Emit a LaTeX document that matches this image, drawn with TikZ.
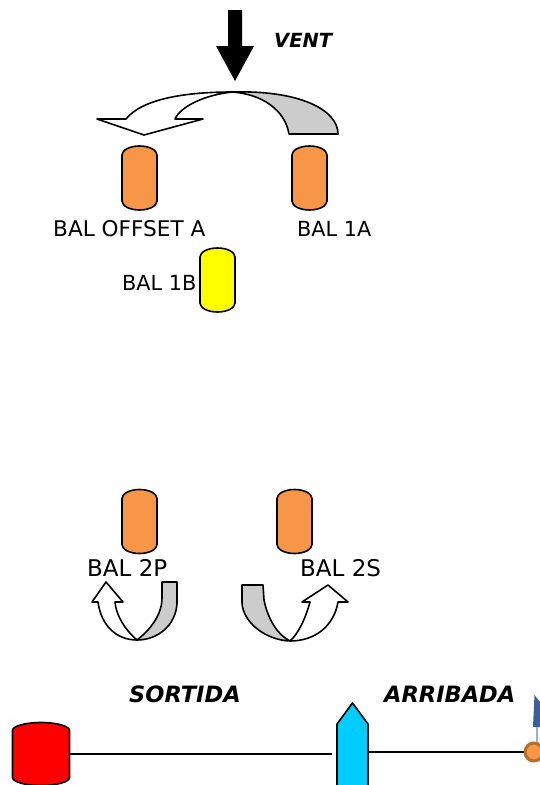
\documentclass[tikz,border=0pt]{standalone}
\usepackage{fontspec}
\setmainfont{DejaVu Sans}
\usetikzlibrary{calc}
\definecolor{balorange}{HTML}{F79646}
\definecolor{balgray}{HTML}{CCCCCC}
\definecolor{balblue}{HTML}{00CCFF}
\definecolor{balyellow}{HTML}{FFFF00}
\definecolor{balred}{HTML}{FF0000}
\definecolor{flagblue}{HTML}{3A6096}
\definecolor{stemblue}{HTML}{95B3D7}
\definecolor{ringbrown}{HTML}{B86E2A}
\tikzset{
  capbox/.style={inner sep=0pt, outer sep=0pt, minimum width=35pt, minimum height=64pt, draw=none},
  outline/.style={draw=black, line width=1.6pt, line join=round},
  lbl/.style={font=\fontsize{20.8}{25}\selectfont, anchor=base west, inner sep=0pt},
  widelbl/.style={font=\fontsize{21.6}{26}\selectfont, anchor=base west, inner sep=0pt},
  biglbl/.style={font=\fontsize{23}{27}\selectfont, anchor=base west, inner sep=0pt},
  ititle/.style={font=\fontsize{19.5}{23}\selectfont\bfseries\itshape, anchor=base west, inner sep=0pt},
  ibig/.style={font=\fontsize{22.5}{26}\selectfont\bfseries\itshape, anchor=base west, inner sep=0pt},
  wire/.style={draw=black, line width=1.5pt}
}
\newcommand\capsule[4]{%
  \draw[outline, fill=#2] ([yshift=-#4pt]#1.north west)
    arc[start angle=180, end angle=0, x radius=#3pt, y radius=#4pt]
    -- ([yshift=#4pt]#1.south east)
    arc[start angle=0, end angle=-180, x radius=#3pt, y radius=#4pt] -- cycle;}
\begin{document}
\begin{tikzpicture}[x=1pt,y=-1pt]
\useasboundingbox (0,0) rectangle (540,785);
\clip (0,0) rectangle (540,785);

% wind arrow
\fill[black] (228,10) -- (242,10) -- (242,46) -- (254,46) -- (235,81) -- (216,46) -- (228,46) -- cycle;
\node[ititle] (vent) at (274,47) {VENT};

% top curved arrow
\draw[outline, fill=balgray] (232,92) .. controls (300,90) and (338,110) .. (338,134)
  -- (289,134) .. controls (285,110) and (262,94) .. (232,92) -- cycle;
\draw[outline, fill=white] (126,119) .. controls (142,99) and (185,92) .. (232,92)
  .. controls (205,95) and (181,106) .. (175,119) -- (203,119) -- (144,135) -- (97,119) -- cycle;

% balloons
\node[capbox] (offA) at (139.5,178) {};
\capsule{offA}{balorange}{17.5}{9}
\node[capbox] (b1A) at (309.5,178) {};
\capsule{b1A}{balorange}{17.5}{9}
\node[capbox] (b1B) at (217.5,280) {};
\capsule{b1B}{balyellow}{17.5}{9}
\node[capbox] (b2P) at (139.5,521.5) {};
\capsule{b2P}{balorange}{17.5}{9}
\node[capbox] (b2S) at (294.5,521.5) {};
\capsule{b2S}{balorange}{17.5}{9}

\node[widelbl] (tOffA) at (53,236) {BAL OFFSET A};
\node[lbl] (t1A) at (297,236) {BAL 1A};
\node[lbl] (t1B) at (122,290) {BAL 1B};
\node[biglbl] (t2P) at (87,576) {BAL 2P};
\node[biglbl] (t2S) at (300,576) {BAL 2S};

% bottom-left U arrow
\draw[outline, fill=balgray] (162,582) -- (177,582) -- (177,603)
  .. controls (176,625) and (158,640) .. (137,640)
  .. controls (150,630) and (162,615) .. (162,598) -- cycle;
\draw[outline, fill=white] (98,602) .. controls (101,625) and (116,640) .. (137,640)
  .. controls (125,630) and (116,615) .. (115,602) -- (123,602) -- (106,582) -- (92,602) -- cycle;

% bottom-right U arrow
\draw[outline, fill=balgray] (242,585) -- (263,585) -- (264,600)
  .. controls (268,620) and (278,635) .. (290,641)
  .. controls (265,640) and (243,622) .. (242,603) -- cycle;
\draw[outline, fill=white] (310,602) .. controls (305,620) and (298,634) .. (290,641)
  .. controls (315,641) and (334,626) .. (338,602) -- (348,602) -- (328,585) -- (302,602) -- cycle;

% bottom: quay, pier, buoy
\node[ibig] (sortida) at (129,702) {SORTIDA};
\node[ibig] (arribada) at (384,702) {ARRIBADA};

\node[capbox, minimum width=57pt, minimum height=63pt] (quay) at (41,754) {};
\capsule{quay}{balred}{28.5}{8}

\node[inner sep=0pt, outer sep=0pt, minimum width=31pt, minimum height=87pt] (pier) at (352.5,746.5) {};
\draw[outline, fill=balblue] (pier.south west) -- ($(pier.north west)+(0,21)$) -- (pier.north)
  -- ($(pier.north east)+(0,21)$) -- (pier.south east);

\fill[flagblue] (533,727) -- (534.5,695) -- (540,702) -- (540,727) -- cycle;
\coordinate (stemtop) at (537,727);
\node[circle, fill=balorange, draw=ringbrown, line width=3pt, minimum size=18pt, inner sep=0pt] (buoy) at (534,752) {};
\draw[stemblue, line width=1.5pt] (stemtop) -- (buoy.north -| stemtop);

\draw[wire, shorten >=5pt] (quay.east) -- (quay.east -| pier.west);
\draw[wire, shorten <=1pt] (pier.east |- buoy.west) -- (buoy.west);
\end{tikzpicture}
\end{document}
